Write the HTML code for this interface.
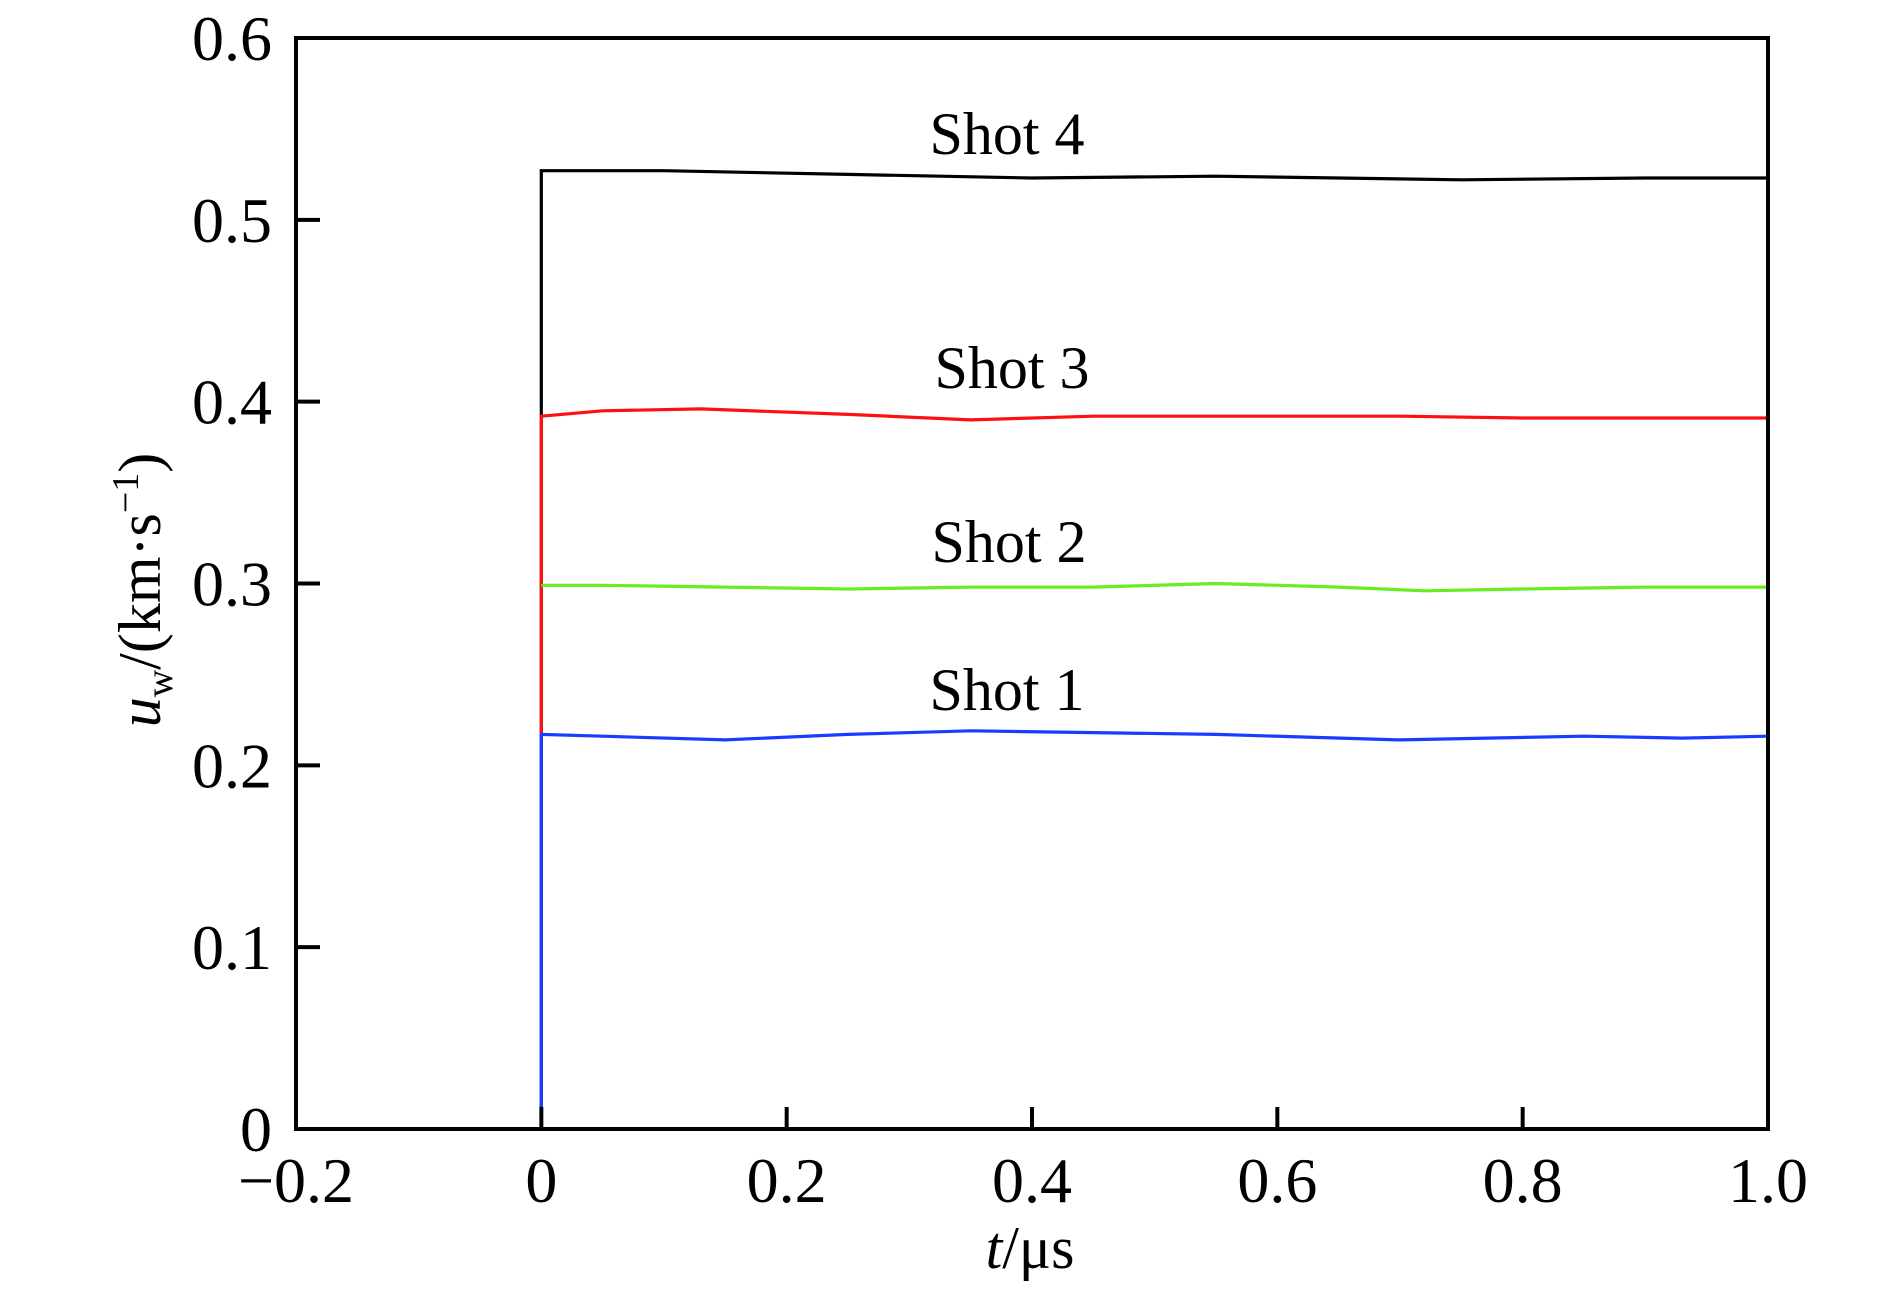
<!DOCTYPE html>
<html><head><meta charset="utf-8"><style>
html,body{margin:0;padding:0;background:#fff;}
svg{display:block;font-family:"Liberation Serif","Times New Roman",serif;}
</style></head><body>
<svg id="chart" width="1890" height="1292" viewBox="0 0 1890 1292" xmlns="http://www.w3.org/2000/svg">
<g id="series"></g>
<rect x="296" y="38" width="1472" height="1091" fill="none" stroke="#000" stroke-width="4"/>
<g id="ticks"></g>
<text x="1007" y="154" font-size="60" text-anchor="middle">Shot 4</text>
<text x="1012" y="388" font-size="60" text-anchor="middle">Shot 3</text>
<text x="1009" y="562" font-size="60" text-anchor="middle">Shot 2</text>
<text x="1007" y="710" font-size="60" text-anchor="middle">Shot 1</text>
<text x="1030" y="1268" font-size="60" text-anchor="middle"><tspan font-style="italic">t</tspan>/μs</text>
<text transform="translate(160,590) rotate(-90)" font-size="60" text-anchor="middle"><tspan font-style="italic">u</tspan><tspan font-size="38" dy="12">w</tspan><tspan dy="-12">/(km·s</tspan><tspan font-size="38" dy="-22">−1</tspan><tspan dy="22">)</tspan></text>
</svg>
<script>
const xTicks = [-0.2, 0, 0.2, 0.4, 0.6, 0.8, 1.0];
const xTickLabels = ["−0.2", "0", "0.2", "0.4", "0.6", "0.8", "1.0"];
const yTicks = [0, 0.1, 0.2, 0.3, 0.4, 0.5, 0.6];
const yTickLabels = ["0", "0.1", "0.2", "0.3", "0.4", "0.5", "0.6"];
const shot4T = [0, 0, 0.1, 0.25, 0.4, 0.55, 0.75, 0.9, 1.0];
const shot4U = [0, 0.527, 0.527, 0.525, 0.523, 0.524, 0.522, 0.523, 0.523];
const shot3T = [0, 0, 0.05, 0.13, 0.25, 0.35, 0.45, 0.55, 0.7, 0.8, 1.0];
const shot3U = [0.217, 0.392, 0.395, 0.396, 0.393, 0.390, 0.392, 0.392, 0.392, 0.391, 0.391];
const shot2T = [0, 0.05, 0.15, 0.25, 0.35, 0.45, 0.55, 0.65, 0.72, 0.8, 0.9, 1.0];
const shot2U = [0.299, 0.299, 0.298, 0.297, 0.298, 0.298, 0.300, 0.298, 0.296, 0.297, 0.298, 0.298];
const shot1T = [-0.2, 0, 0, 0.05, 0.15, 0.25, 0.35, 0.45, 0.55, 0.7, 0.85, 0.93, 1.0];
const shot1U = [0, 0, 0.217, 0.216, 0.214, 0.217, 0.219, 0.218, 0.217, 0.214, 0.216, 0.215, 0.216];

const X0 = 296, X1 = 1768, Y0 = 1129, Y1 = 38;
const xs = t => X0 + (t - (-0.2)) / 1.2 * (X1 - X0);
const ys = u => Y0 - u / 0.6 * (Y0 - Y1);
const NS = "http://www.w3.org/2000/svg";
const sg = document.getElementById('series');
function line(T, U, color, name) {
  const p = document.createElementNS(NS, 'path');
  p.setAttribute('d', T.map((t, i) => (i ? 'L' : 'M') + xs(t).toFixed(1) + ' ' + ys(U[i]).toFixed(1)).join(' '));
  p.setAttribute('fill', 'none');
  p.setAttribute('stroke', color);
  p.setAttribute('stroke-width', '3.2');
  
  
  sg.appendChild(p);
}
line(shot4T, shot4U, '#000', 'shot-4-line');
line(shot3T, shot3U, '#ff1010', 'shot-3-line');
line(shot2T, shot2U, '#66ee22', 'shot-2-line');
line(shot1T, shot1U, '#1a3cff', 'shot-1-line');

const tg = document.getElementById('ticks');
xTicks.forEach((t, i) => {
  const x = xs(t);
  if (i > 0 && i < xTicks.length - 1) {
    const l = document.createElementNS(NS, 'line');
    l.setAttribute('x1', x); l.setAttribute('x2', x);
    l.setAttribute('y1', Y0); l.setAttribute('y2', Y0 - 22);
    l.setAttribute('stroke', '#000'); l.setAttribute('stroke-width', '4');
    
    
    tg.appendChild(l);
  }
  const tx = document.createElementNS(NS, 'text');
  tx.setAttribute('x', x); tx.setAttribute('y', 1202);
  tx.setAttribute('font-size', '64'); tx.setAttribute('text-anchor', 'middle');
  tx.textContent = xTickLabels[i];
  
  
  tg.appendChild(tx);
});
yTicks.forEach((u, i) => {
  const y = ys(u);
  if (i > 0 && i < yTicks.length - 1) {
    const l = document.createElementNS(NS, 'line');
    l.setAttribute('x1', X0); l.setAttribute('x2', X0 + 24);
    l.setAttribute('y1', y); l.setAttribute('y2', y);
    l.setAttribute('stroke', '#000'); l.setAttribute('stroke-width', '4');
    
    
    tg.appendChild(l);
  }
  const tx = document.createElementNS(NS, 'text');
  tx.setAttribute('x', 272); tx.setAttribute('y', y + 22);
  tx.setAttribute('font-size', '64'); tx.setAttribute('text-anchor', 'end');
  tx.textContent = yTickLabels[i];
  
  
  tg.appendChild(tx);
});
</script>
</body></html>
